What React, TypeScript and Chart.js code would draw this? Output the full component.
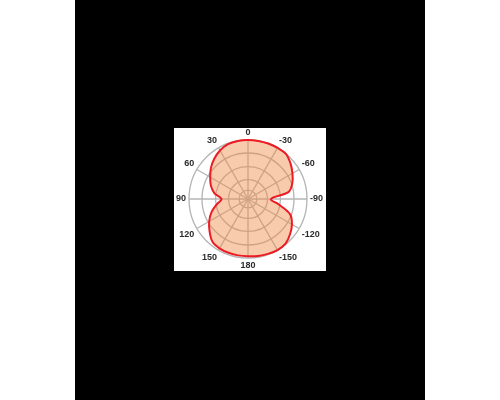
import React, { useEffect, useRef } from "react";
import { Chart, registerables } from "chart.js";

Chart.register(...registerables);

// Angle labels, clockwise from the top, every 10 degrees
const angleLabels = [
  "0", "-10", "-20", "-30", "-40", "-50", "-60", "-70", "-80",
  "-90", "-100", "-110", "-120", "-130", "-140", "-150", "-160", "-170",
  "180", "170", "160", "150", "140", "130", "120", "110", "100",
  "90", "80", "70", "60", "50", "40", "30", "20", "10",
];

// Relative pattern (fraction of the outer ring)
const pattern = [
  1.0, 1.0, 1.0, 1.0, 1.0, 0.94, 0.87, 0.8, 0.7,
  0.39, 0.53, 0.76, 0.86, 0.93, 0.99, 1.0, 0.99, 0.98,
  0.97, 0.97, 0.97, 0.965, 0.94, 0.85, 0.76, 0.66, 0.54,
  0.45, 0.58, 0.67, 0.74, 0.82, 0.89, 0.95, 0.99, 1.0,
];

// Ring positions
const ringValues = [0.15, 0.33, 0.55, 0.78, 1.0];

export default function App() {
  const ref = useRef<HTMLCanvasElement | null>(null);

  useEffect(() => {
    if (!ref.current) return;
    const grid = "rgb(180,180,180)";
    const chart = new Chart(ref.current, {
      type: "radar",
      data: {
        labels: angleLabels,
        datasets: [
          {
            data: pattern,
            borderColor: "rgb(237,28,36)",
            borderWidth: 2,
            backgroundColor: "rgba(240,140,73,0.45)",
            fill: true,
            pointRadius: 0,
            pointHoverRadius: 0,
            tension: 0.35,
          },
        ],
      },
      options: {
        responsive: false,
        animation: false,
        devicePixelRatio: 1,
        plugins: { legend: { display: false }, tooltip: { enabled: false } },
        layout: { padding: 0 },
        scales: {
          r: {
            min: 0,
            max: 1,
            afterBuildTicks: (scale: any) => {
              scale.ticks = [0, ...ringValues].map((v) => ({ value: v }));
            },
            ticks: { display: false },
            grid: { circular: true, color: grid, lineWidth: 1.3 },
            angleLines: {
              color: (ctx: any) => (ctx.index % 3 === 0 ? grid : "rgba(0,0,0,0)"),
              lineWidth: 1.3,
            },
            pointLabels: {
              padding: 3,
              color: "#2b2b2b",
              font: { family: "'Liberation Sans', Arial, sans-serif", size: 9, weight: "bold", lineHeight: 1 },
              callback: (label: string, index: number) => (index % 3 === 0 ? label : ""),
            },
          },
        },
      },
    });
    return () => chart.destroy();
  }, []);

  return (
    <div style={{ position: "fixed", left: 0, top: 0, width: 500, height: 400, background: "#ffffff" }}>
      <div style={{ position: "absolute", left: 75, top: 0, width: 350, height: 400, background: "#000000" }} />
      <div style={{ position: "absolute", left: 174, top: 128, width: 152, height: 143, background: "#ffffff" }}>
        <canvas ref={ref} width={152} height={143} style={{ display: "block", width: 152, height: 143 }} />
      </div>
    </div>
  );
}
